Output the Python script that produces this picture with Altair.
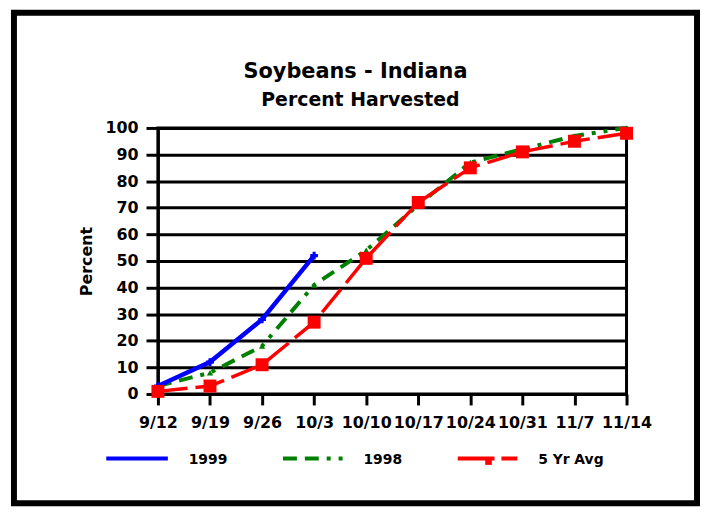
import altair as alt
import pandas as pd

weeks = ["9/12", "9/19", "9/26", "10/3", "10/10", "10/17", "10/24", "10/31", "11/7", "11/14"]
y1999 = [3, 12, 28, 52]
y1998 = [3, 8, 18, 41, 54, 71, 87, 92, 97, 100]
avg5 = [1, 3, 11, 27, 51, 72, 85, 91, 95, 98]
y_ticks = list(range(0, 101, 10))
series_names = ["1999", "1998", "5 Yr Avg"]
series_colors = ["#0000FF", "#008000", "#FF0000"]
title_text = "Soybeans - Indiana"
subtitle_text = "Percent Harvested"
y_title = "Percent"

FONT = "DejaVu Sans"

rows = []
for name, vals in zip(series_names, [y1999, y1998, avg5]):
    for w, v in zip(weeks, vals):
        rows.append({"week": w, "value": v, "series": name})
df = pd.DataFrame(rows)
leg_df = pd.DataFrame({"series": series_names})

x_enc = alt.X(
    "week:O",
    scale=alt.Scale(type="point", domain=weeks, padding=0),
    axis=alt.Axis(title=None, labelAngle=0, tickSize=11, labelPadding=10,
                  grid=False, domain=True),
)
y_enc = alt.Y(
    "value:Q",
    scale=alt.Scale(domain=[0, 100], nice=False, zero=True),
    axis=alt.Axis(values=y_ticks, title=y_title, grid=True, tickSize=12,
                  labelPadding=8, titlePadding=10),
)

base = alt.Chart(df).encode(x=x_enc, y=y_enc)


def sel(name):
    return alt.datum.series == name


green_line = base.transform_filter(sel("1998")).mark_line(
    color=series_colors[1], strokeWidth=4, strokeDash=[14, 8, 14, 8, 4, 8, 4, 8])
green_pts = base.transform_filter(sel("1998")).mark_point(
    color=series_colors[1], filled=True, shape="triangle-up", size=40, opacity=1)
blue_line = base.transform_filter(sel("1999")).mark_line(
    color=series_colors[0], strokeWidth=4.5)
blue_pts = base.transform_filter(sel("1999")).mark_point(
    color=series_colors[0], filled=True, shape="cross", size=60, opacity=1)
red_line = base.transform_filter(sel("5 Yr Avg")).mark_line(
    color=series_colors[2], strokeWidth=3.5, strokeDash=[30, 8])
red_pts = base.transform_filter(sel("5 Yr Avg")).mark_point(
    color=series_colors[2], filled=True, shape="square", size=170, opacity=1)

# custom legend
leg_y = 333
leg_layers = []
leg_specs = [
    ("1999", -52, 10, 31, None),
    ("1998", 126, 186, 207, [14, 8, 14, 8, 4, 8, 4, 8]),
    ("5 Yr Avg", 302, 362, 383, [37, 7]),
]
for (name, x1, x2, tx, dash), col in zip(leg_specs, series_colors):
    rule_kwargs = dict(color=col, strokeWidth=4)
    if dash:
        rule_kwargs["strokeDash"] = dash
    leg_layers.append(
        alt.Chart(leg_df).transform_filter(sel(name)).mark_rule(**rule_kwargs).encode(
            x=alt.value(x1), x2=alt.value(x2), y=alt.value(leg_y))
    )
    leg_layers.append(
        alt.Chart(leg_df).transform_filter(sel(name)).mark_text(
            align="left", baseline="middle", font=FONT, fontSize=14,
            fontWeight="bold", color="black").encode(
            x=alt.value(tx), y=alt.value(leg_y + 1), text="series:N")
    )
leg_layers.append(
    alt.Chart(leg_df).transform_filter(sel("5 Yr Avg")).mark_point(
        color=series_colors[2], filled=True, shape="square", size=45, opacity=1).encode(
        x=alt.value(333), y=alt.value(leg_y + 3))
)

title_df = pd.DataFrame({"t": [title_text, subtitle_text]})
title1 = alt.Chart(title_df).transform_filter(alt.datum.t == title_text).mark_text(
    align="center", baseline="alphabetic", font=FONT, fontSize=21, fontWeight="bold",
    color="black").encode(x=alt.value(199), y=alt.value(-50), text="t:N")
title2 = alt.Chart(title_df).transform_filter(alt.datum.t == subtitle_text).mark_text(
    align="center", baseline="alphabetic", font=FONT, fontSize=19, fontWeight="bold",
    color="black").encode(x=alt.value(204), y=alt.value(-22), text="t:N")

border = alt.Chart(leg_df).transform_filter(sel("1999")).mark_rect(
    filled=False, stroke="black", strokeWidth=6).encode(
    x=alt.value(-145), x2=alt.value(543), y=alt.value(-116), y2=alt.value(378))

chart = alt.layer(
    green_line, green_pts, blue_line, blue_pts, red_line, red_pts,
    *leg_layers, title1, title2, border,
).properties(
    width=472, height=268,
    autosize=alt.AutoSizeParams(type="none"),
    padding={"left": 151, "top": 119, "right": 74, "bottom": 113},
    background="white",
).configure_view(
    stroke="black", strokeWidth=3,
).configure_axis(
    domainColor="black", domainWidth=3, tickColor="black", tickWidth=3,
    gridColor="black", gridWidth=3, gridOpacity=1,
    labelFont=FONT, labelFontSize=16, labelFontWeight="bold", labelColor="black",
    titleFont=FONT, titleFontSize=16, titleFontWeight="bold", titleColor="black",
)

chart.save("out.html", embed_options={"renderer": "svg", "actions": False})
